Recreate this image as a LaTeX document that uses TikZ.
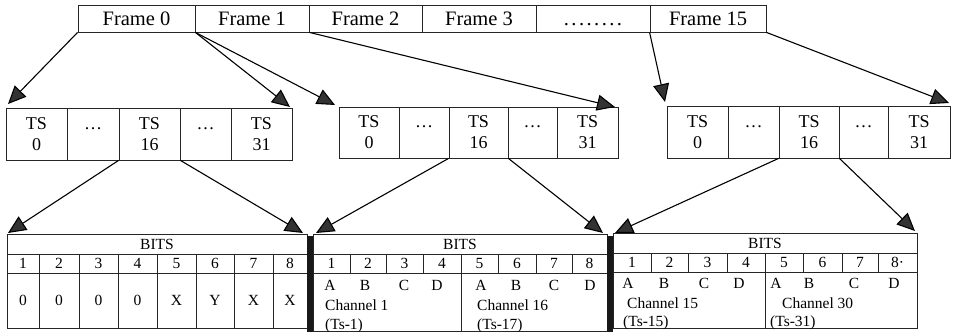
\documentclass[tikz,border=0pt]{standalone}
\usepackage{fontspec}
\setmainfont{Liberation Serif}
\usetikzlibrary{arrows.meta}

\tikzset{
  grid line/.style={draw=black!85, line width=0.8pt},
  cellbox/.style={grid line, inner sep=0pt, align=center},
  frametext/.style={font=\fontsize{20.5}{24}\selectfont},
  tstext/.style={font=\fontsize{18}{21}\selectfont},
  bittext/.style={font=\fontsize{15.5}{18}\selectfont},
  feed/.style={line width=1.1pt, -{Triangle[length=18pt,width=16pt,fill=black!80]}},
  sepbar/.style={fill=black!90},
}

% a bordered cell spanning the rectangle (x1,y1)-(x2,y2)
\newcommand\gridcell[6]{%
  \pgfmathsetmacro\cellw{#4-#2}%
  \pgfmathsetmacro\cellh{#5-#3}%
  \node[cellbox, minimum width=\cellw pt, minimum height=\cellh pt]
    (#1) at ({(#2+#4)/2},{(#3+#5)/2}) {#6};}

\begin{document}
\begin{tikzpicture}[x=1pt, y=-1pt]
\useasboundingbox (0,0) rectangle (954,332);

% ---- multiframe ----
\begin{scope}[frametext]
  \gridcell{f0}{78}{5}{195}{32}{Frame 0}
  \gridcell{f1}{195}{5}{309}{32}{Frame 1}
  \gridcell{f2}{309}{5}{422}{32}{Frame 2}
  \gridcell{f3}{422}{5}{536}{32}{Frame 3}
  \gridcell{fdots}{536}{5}{650}{32}{\vphantom{F}{\addfontfeature{LetterSpace=12}........}}
  \gridcell{f15}{650}{5}{766}{32}{Frame 15}
\end{scope}

% ---- time slots of three frames ----
\begin{scope}[tstext]
  \gridcell{ts0a}{6}{108}{67}{160}{TS\\0}
  \gridcell{tsda}{67}{108}{119}{160}{\vphantom{TS}\dots\\\vphantom{0}}
  \gridcell{ts16a}{119}{108}{180}{160}{TS\\16}
  \gridcell{tsea}{180}{108}{231}{160}{\vphantom{TS}\dots\\\vphantom{0}}
  \gridcell{ts31a}{231}{108}{292}{160}{TS\\31}

  \gridcell{ts0b}{339}{107}{399}{158}{TS\\0}
  \gridcell{tsdb}{399}{107}{449}{158}{\vphantom{TS}\dots\\\vphantom{0}}
  \gridcell{ts16b}{449}{107}{508}{158}{TS\\16}
  \gridcell{tseb}{508}{107}{557}{158}{\vphantom{TS}\dots\\\vphantom{0}}
  \gridcell{ts31b}{557}{107}{618}{158}{TS\\31}

  \gridcell{ts0c}{667}{106}{728}{158}{TS\\0}
  \gridcell{tsdc}{728}{106}{779}{158}{\vphantom{TS}\dots\\\vphantom{0}}
  \gridcell{ts16c}{779}{106}{839}{158}{TS\\16}
  \gridcell{tsec}{839}{106}{888}{158}{\vphantom{TS}\dots\\\vphantom{0}}
  \gridcell{ts31c}{888}{106}{950}{158}{TS\\31}
\end{scope}

% ---- bit tables ----
\begin{scope}[bittext]
  % table for TS 16 of frame 0
  \gridcell{bitsa}{7}{234}{307}{254}{BITS}
  \foreach \i/\xa/\xb/\v in {1/7/39/0, 2/39/79/0, 3/79/118/0, 4/118/157/0,
                              5/157/196/X, 6/196/234/Y, 7/234/273/X, 8/273/307/X} {
    \gridcell{na\i}{\xa}{254}{\xb}{273}{\i}
    \gridcell{va\i}{\xa}{273}{\xb}{328}{\raisebox{-4pt}{\v}}
  }

  % table for TS 16 of frame 1
  \gridcell{bitsb}{313}{234}{607}{254}{BITS}
  \foreach \i/\xa/\xb in {1/313/350, 2/350/386, 3/386/423, 4/423/461,
                          5/461/498, 6/498/536, 7/536/572, 8/572/607} {
    \gridcell{nb\i}{\xa}{254}{\xb}{273}{\i}
  }
  \gridcell{chb1}{313}{273}{461}{331}{}
  \gridcell{chb2}{461}{273}{607}{331}{}
  \foreach \x/\t in {330/A, 365/B, 404/C, 437/D, 481/A, 516/B, 554/C, 590/D}
    \node[anchor=base, inner sep=0pt] (lb\t\x) at (\x,290) {\t};
  \node[anchor=base west, inner sep=0pt] (chb1name) at (325,310) {Channel 1};
  \node[anchor=base west, inner sep=0pt] (chb1ts) at (325,329) {(Ts-1)};
  \node[anchor=base west, inner sep=0pt] (chb2name) at (477,310) {Channel 16};
  \node[anchor=base west, inner sep=0pt] (chb2ts) at (477,329) {(Ts-17)};

  % table for TS 16 of frame 15
  \gridcell{bitsc}{613}{233}{917}{253}{BITS}
  \foreach \i/\xa/\xb/\n in {1/613/651/1, 2/651/688/2, 3/688/727/3, 4/727/765/4,
                             5/765/803/5, 6/803/842/6, 7/842/878/7, 8/878/917/8·} {
    \gridcell{nc\i}{\xa}{253}{\xb}{272}{\n}
  }
  \gridcell{chc1}{613}{272}{765}{328}{}
  \gridcell{chc2}{765}{272}{917}{328}{}
  \foreach \x/\t in {628/A, 664/B, 704/C, 739/D, 776/A, 809/B, 854/C, 894/D}
    \node[anchor=base, inner sep=0pt] (lc\t\x) at (\x,288) {\t};
  \node[anchor=base west, inner sep=0pt] (chc1name) at (627,308) {Channel 15};
  \node[anchor=base west, inner sep=0pt] (chc1ts) at (623,326) {(Ts-15)};
  \node[anchor=base west, inner sep=0pt] (chc2name) at (782,308) {Channel 30};
  \node[anchor=base west, inner sep=0pt] (chc2ts) at (770,326) {(Ts-31)};
\end{scope}

% heavy separators between the tables
\fill[sepbar] (307,236) rectangle (313,332);
\fill[sepbar] (607,236) rectangle (613,332);

% ---- arrow end points ----
\coordinate (a1) at (8,104);
\coordinate (a2) at (290,107);
\coordinate (a3) at (335,105);
\coordinate (a4) at (615,107);
\coordinate (a5) at (665,102);
\coordinate (a6) at (949,103);
\coordinate (b1) at (8,233);
\coordinate (b2) at (303,233);
\coordinate (b3) at (316,233);
\coordinate (b4) at (603,233);
\coordinate (b5) at (615,233);
\coordinate (b6) at (915,231);

% frames to time slots
\draw[feed] (f0.south west) -- (a1);
\draw[feed] (f0.south east) -- (a2);
\draw[feed] (f0.south east) -- (a3);
\draw[feed] (f1.south east) -- (a4);
\draw[feed] (f15.south west) -- (a5);
\draw[feed] (f15.south east) -- (a6);

% TS 16 to its bits
\draw[feed] (ts16a.south west) -- (b1);
\draw[feed] (ts16a.south east) -- (b2);
\draw[feed] (ts16b.south west) -- (b3);
\draw[feed] (ts16b.south east) -- (b4);
\draw[feed] (ts16c.south west) -- (b5);
\draw[feed] (ts16c.south east) -- (b6);
\end{tikzpicture}
\end{document}
